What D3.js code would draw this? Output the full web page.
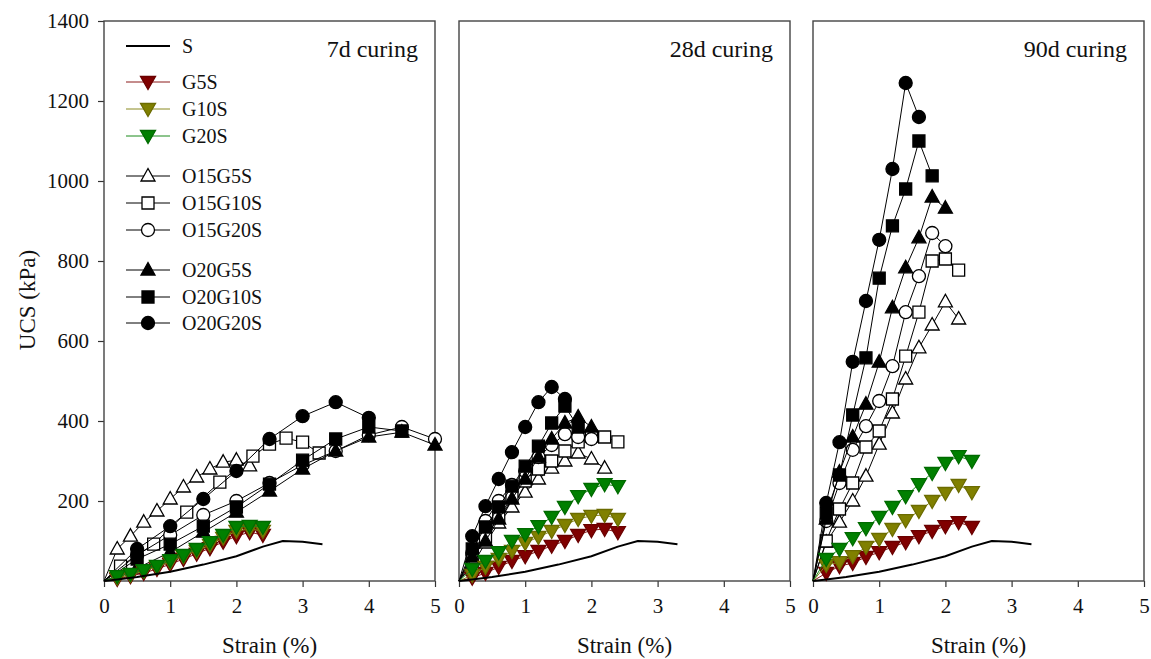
<!DOCTYPE html>
<html>
<head>
<meta charset="utf-8">
<script src="https://cdn.jsdelivr.net/npm/d3@7"></script>
<style>
  body { margin: 0; background: #fff; }
  svg { display: block; }
  svg text { font-family: 'Liberation Serif', 'Times New Roman', serif; }
</style>
</head>
<body>
<svg id="chart" width="1151" height="659"></svg>
<script>
// UCS vs strain, three curing ages

const panelTitles = ['7d curing', '28d curing', '90d curing'];
const xTicks = [0, 1, 2, 3, 4, 5];
const yTicks = [200, 400, 600, 800, 1000, 1200, 1400];

// untreated soil, same curve in every panel
const S = [[0, 0], [0.2, 4], [0.5, 10], [1, 23], [1.5, 41], [2, 62], [2.4, 86], [2.7, 100], [3, 98], [3.3, 92]];

// geopolymer-only series share strains 0.2..2.4
const gStrain = [0.2, 0.4, 0.6, 0.8, 1.0, 1.2, 1.4, 1.6, 1.8, 2.0, 2.2, 2.4];
const G5S = [
  [5, 12, 20, 30, 42, 55, 68, 82, 98, 112, 122, 115],
  [8, 20, 35, 50, 62, 75, 88, 100, 115, 127, 130, 122],
  [20, 37, 45, 60, 72, 85, 97, 112, 125, 137, 147, 135]
];
const G10S = [
  [8, 15, 25, 35, 48, 62, 75, 90, 108, 125, 130, 125],
  [15, 35, 55, 75, 95, 110, 125, 140, 155, 163, 165, 155],
  [40, 47, 62, 85, 105, 130, 152, 175, 200, 220, 240, 222]
];
const G20S = [
  [12, 18, 27, 38, 52, 65, 80, 97, 115, 135, 138, 135],
  [30, 50, 72, 100, 117, 137, 160, 185, 212, 230, 242, 237],
  [55, 80, 107, 132, 160, 185, 212, 242, 270, 295, 312, 300]
];

// [strain, UCS] pairs, one list per curing age
const O15G5S = [
  [[0.2, 80], [0.4, 112], [0.6, 147], [0.8, 175], [1.0, 205], [1.2, 235], [1.4, 260], [1.6, 280], [1.8, 297], [2.0, 302], [2.2, 288]],
  [[0.2, 40], [0.4, 95], [0.6, 145], [0.8, 185], [1.0, 222], [1.2, 255], [1.4, 282], [1.6, 300], [1.8, 320], [2.0, 305], [2.2, 282]],
  [[0.2, 97], [0.4, 147], [0.6, 200], [0.8, 262], [1.0, 342], [1.2, 420], [1.4, 505], [1.6, 583], [1.8, 640], [2.0, 698], [2.2, 655]]
];
const O15G10S = [
  [[0.25, 37], [0.75, 92], [1.25, 172], [1.75, 247], [2.25, 312], [2.5, 342], [2.75, 357], [3.0, 347], [3.25, 320]],
  [[0.2, 50], [0.4, 110], [0.6, 160], [0.8, 210], [1.0, 250], [1.2, 280], [1.4, 300], [1.6, 325], [1.8, 348], [2.0, 362], [2.2, 360], [2.4, 348]],
  [[0.2, 100], [0.4, 180], [0.6, 245], [0.8, 335], [1.0, 375], [1.2, 455], [1.4, 562], [1.6, 672], [1.8, 800], [2.0, 805], [2.2, 777]]
];
const O15G20S = [
  [[0.5, 65], [1.0, 115], [1.5, 165], [2.0, 200], [2.5, 245], [3.0, 290], [3.5, 325], [4.0, 365], [4.5, 385], [5.0, 355]],
  [[0.2, 70], [0.4, 150], [0.6, 200], [0.8, 240], [1.0, 275], [1.2, 310], [1.4, 340], [1.6, 367], [1.8, 360], [2.0, 355]],
  [[0.2, 150], [0.4, 245], [0.6, 328], [0.8, 387], [1.0, 450], [1.2, 537], [1.4, 672], [1.6, 762], [1.8, 870], [2.0, 837]]
];
const O20G5S = [
  [[0.5, 32], [1.0, 72], [1.5, 122], [2.0, 172], [2.5, 225], [3.0, 280], [3.5, 325], [4.0, 360], [4.5, 372], [5.0, 340]],
  [[0.2, 60], [0.4, 100], [0.6, 155], [0.8, 205], [1.0, 255], [1.2, 310], [1.4, 355], [1.6, 395], [1.8, 410], [2.0, 385]],
  [[0.2, 155], [0.4, 272], [0.6, 360], [0.8, 442], [1.0, 547], [1.2, 683], [1.4, 783], [1.6, 858], [1.8, 960], [2.0, 932]]
];
const O20G10S = [
  [[0.5, 55], [1.0, 92], [1.5, 137], [2.0, 185], [2.5, 242], [3.0, 302], [3.5, 355], [4.0, 385], [4.5, 375]],
  [[0.2, 80], [0.4, 135], [0.6, 185], [0.8, 237], [1.0, 287], [1.2, 337], [1.4, 395], [1.6, 437], [1.8, 385]],
  [[0.2, 170], [0.4, 265], [0.6, 415], [0.8, 558], [1.0, 757], [1.2, 888], [1.4, 980], [1.6, 1100], [1.8, 1013]]
];
const O20G20S = [
  [[0.5, 80], [1.0, 137], [1.5, 205], [2.0, 275], [2.5, 355], [3.0, 412], [3.5, 447], [4.0, 408]],
  [[0.2, 112], [0.4, 187], [0.6, 255], [0.8, 322], [1.0, 385], [1.2, 447], [1.4, 485], [1.6, 455]],
  [[0.2, 195], [0.4, 347], [0.6, 548], [0.8, 700], [1.0, 853], [1.2, 1030], [1.4, 1245], [1.6, 1160]]
];

const legendNames = ['S', 'G5S', 'G10S', 'G20S', 'O15G5S', 'O15G10S', 'O15G20S', 'O20G5S', 'O20G10S', 'O20G20S'];

// series styling
const STYLE = {
  S:       { shape: null,    fill: 'none',    stroke: '#000',    line: '#000',    lw: 2 },
  G5S:     { shape: 'tdown', fill: '#800000', stroke: '#6a0000', line: '#8b1a1a', lw: 1 },
  G10S:    { shape: 'tdown', fill: '#808000', stroke: '#6b6b00', line: '#8a8a20', lw: 1 },
  G20S:    { shape: 'tdown', fill: '#008000', stroke: '#006a00', line: '#1a8a1a', lw: 1 },
  O15G5S:  { shape: 'tup',    fill: '#fff', stroke: '#000', line: '#000', lw: 1 },
  O15G10S: { shape: 'square', fill: '#fff', stroke: '#000', line: '#000', lw: 1 },
  O15G20S: { shape: 'circle', fill: '#fff', stroke: '#000', line: '#000', lw: 1 },
  O20G5S:  { shape: 'tup',    fill: '#000', stroke: '#000', line: '#000', lw: 1 },
  O20G10S: { shape: 'square', fill: '#000', stroke: '#000', line: '#000', lw: 1 },
  O20G20S: { shape: 'circle', fill: '#000', stroke: '#000', line: '#000', lw: 1 }
};

const FONT = "'Liberation Serif', 'Times New Roman', serif";
const PANEL_LEFT = [104, 459, 813];
const PANEL_W = 331;
const TOP = 21, BOTTOM = 581;

function markerPath(shape) {
  switch (shape) {
    case 'tup': return 'M0,-7.5L7,5L-7,5Z';
    case 'tdown': return 'M0,7.5L7.5,-5.5L-7.5,-5.5Z';
    case 'square': return 'M-6,-6H6V6H-6Z';
    case 'circle': return 'M6.5,0A6.5,6.5 0 1,1 -6.5,0A6.5,6.5 0 1,1 6.5,0Z';
  }
  return '';
}

const svg = d3.select('#chart');
const y = d3.scaleLinear().domain([0, 1400]).range([BOTTOM, TOP]);

function seriesFor(i) {
  const g = arr => gStrain.map((s, k) => [s, arr[i][k]]);
  return [
    ['O15G5S', O15G5S[i]], ['O15G10S', O15G10S[i]], ['O15G20S', O15G20S[i]],
    ['O20G5S', O20G5S[i]], ['O20G10S', O20G10S[i]], ['O20G20S', O20G20S[i]],
    ['G5S', g(G5S)], ['G10S', g(G10S)], ['G20S', g(G20S)],
    ['S', S]
  ];
}

panelTitles.forEach((title, i) => {
  const left = PANEL_LEFT[i];
  const x = d3.scaleLinear().domain([0, 5]).range([left, left + PANEL_W]);
  const g = svg.append('g');

  // x axis
  const xa = g.append('g')
    .attr('transform', `translate(0,${BOTTOM})`)
    .call(d3.axisBottom(x).tickValues(xTicks).tickFormat(d3.format('d'))
      .tickSize(6).tickSizeOuter(0).tickPadding(11));
  xa.attr('font-family', FONT);
  xa.select('.domain').remove();
  xa.selectAll('line').attr('stroke', '#333').attr('stroke-width', 1.2);
  xa.selectAll('text').attr('font-size', 21).attr('fill', '#111');

  if (i === 0) {
    const ya = g.append('g')
      .attr('transform', `translate(${left},0)`)
      .call(d3.axisLeft(y).tickValues(yTicks).tickFormat(d3.format('d'))
        .tickSize(6).tickSizeOuter(0).tickPadding(9));
    ya.attr('font-family', FONT);
    ya.select('.domain').remove();
    ya.selectAll('line').attr('stroke', '#333').attr('stroke-width', 1.2);
    ya.selectAll('text').attr('font-size', 21).attr('fill', '#111');
  }

  // frame
  g.append('rect')
    .attr('x', left).attr('y', TOP)
    .attr('width', PANEL_W).attr('height', BOTTOM - TOP)
    .attr('fill', 'none').attr('stroke', '#444').attr('stroke-width', 1.4);

  const line = d3.line().x(d => x(d[0])).y(d => y(d[1]));

  seriesFor(i).forEach(([name, pts]) => {
    const st = STYLE[name];
    const full = pts[0][0] === 0 ? pts : [[0, 0]].concat(pts);
    g.append('path')
      .attr('d', line(full))
      .attr('fill', 'none')
      .attr('stroke', st.line)
      .attr('stroke-width', st.lw);
    if (!st.shape) return;
    g.selectAll(null)
      .data(pts)
      .join('path')
      .attr('transform', d => `translate(${x(d[0])},${y(d[1])})`)
      .attr('d', markerPath(st.shape))
      .attr('fill', st.fill)
      .attr('stroke', st.stroke)
      .attr('stroke-width', 1.3);
  });

  g.append('text')
    .attr('x', left + PANEL_W - 17).attr('y', 57)
    .attr('text-anchor', 'end')
    .attr('font-family', FONT)
    .attr('font-size', 24)
    .attr('fill', '#111')
    .text(title);

  g.append('text')
    .attr('x', left + PANEL_W / 2).attr('y', 653)
    .attr('text-anchor', 'middle')
    .attr('font-family', FONT)
    .attr('font-size', 23)
    .attr('fill', '#111')
    .text('Strain (%)');
});

svg.append('text')
  .attr('transform', 'translate(35,300) rotate(-90)')
  .attr('text-anchor', 'middle')
  .attr('font-family', FONT)
  .attr('font-size', 23)
  .attr('fill', '#111')
  .text('UCS (kPa)');

// legend
const legendY = [46, 82, 109, 136, 176, 203, 230, 270, 297, 323];
const lg = svg.append('g');
legendNames.forEach((name, k) => {
  const st = STYLE[name];
  const yy = legendY[k];
  lg.append('line')
    .attr('x1', 126).attr('x2', 170).attr('y1', yy).attr('y2', yy)
    .attr('stroke', st.line).attr('stroke-width', st.lw);
  if (st.shape) {
    lg.append('path')
      .attr('transform', `translate(148,${yy})`)
      .attr('d', markerPath(st.shape))
      .attr('fill', st.fill)
      .attr('stroke', st.stroke)
      .attr('stroke-width', 1.3);
  }
  lg.append('text')
    .attr('x', 182).attr('y', yy + 7)
    .attr('font-family', FONT)
    .attr('font-size', 20)
    .attr('fill', '#111')
    .text(name);
});
</script>
</body>
</html>
